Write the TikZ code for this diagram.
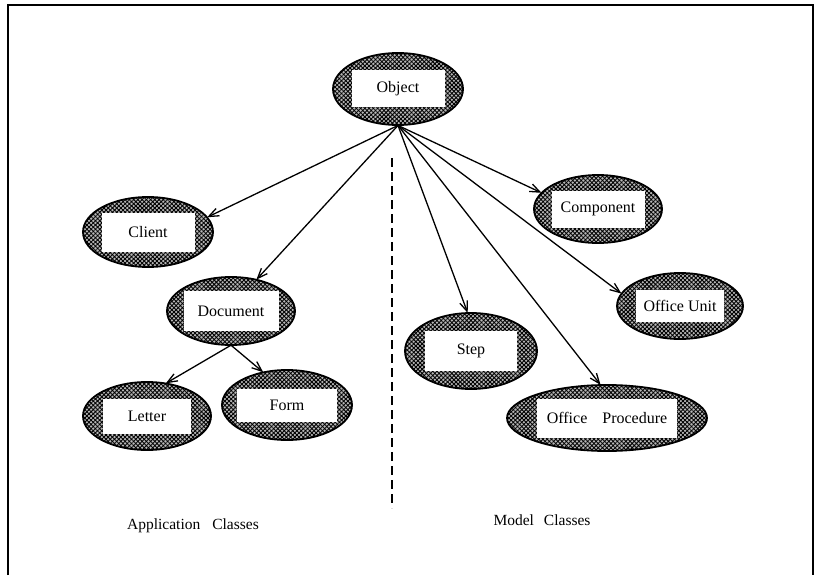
\documentclass[tikz,border=0pt]{standalone}
\usepackage{fontspec}
\setmainfont{Liberation Serif}
\usetikzlibrary{arrows.meta,shapes.geometric,patterns.meta}
\begin{document}
\begin{tikzpicture}[x=1pt,y=-1pt,
  cls/.style={ellipse, inner sep=0pt,
    preaction={fill=black!28},
    pattern={Lines[angle=45,distance=3pt,line width=0.9pt]},
    postaction={pattern={Lines[angle=-45,distance=3pt,line width=0.9pt]}},
    postaction={draw, line width=1.8pt}},
  lbl/.style={rectangle, fill=white, inner sep=0pt, font=\fontsize{16}{18}\selectfont},
  arr/.style={-{Straight Barb[length=10pt,width=8pt]}, line width=1.3pt},
  capt/.style={inner sep=0pt, font=\fontsize{15.5}{18}\selectfont}
]
\useasboundingbox (0,0) rectangle (821,575);
% frame
\draw[line width=1.3pt] (8,575) -- (8,5) -- (813,5) -- (813,575);

% ellipses
\node[cls, minimum width=130pt, minimum height=72pt] (obj) at (398,89) {};
\node[cls, minimum width=130pt, minimum height=70pt] (cli) at (148,232) {};
\node[cls, minimum width=128pt, minimum height=68pt] (doc) at (231,311) {};
\node[cls, minimum width=128pt, minimum height=68pt] (com) at (598,209) {};
\node[cls, minimum width=126pt, minimum height=66pt] (ou)  at (680,306) {};
\node[cls, minimum width=132pt, minimum height=76pt] (stp) at (471,351) {};
\node[cls, minimum width=200pt, minimum height=66pt] (op)  at (607,418) {};
\node[cls, minimum width=128pt, minimum height=68pt] (let) at (147,416) {};
\node[cls, minimum width=130pt, minimum height=70pt] (frm) at (287,405) {};

% inner labels
\node[lbl, minimum width=93pt, minimum height=37pt] (objL) at (obj) {Object};
\node[lbl, minimum width=93pt, minimum height=39pt] (cliL) at (cli) {Client};
\node[lbl, minimum width=95pt, minimum height=40pt] (docL) at (doc) {Document};
\node[lbl, minimum width=93pt, minimum height=37pt] (comL) at (com) {Component};
\node[lbl, minimum width=88pt, minimum height=32pt] (ouL)  at (ou)  {Office Unit};
\node[lbl, minimum width=92pt, minimum height=40pt] (stpL) at (stp) {Step};
\node[lbl, minimum width=140pt, minimum height=39pt] (opL) at (op) {Office\hspace{15pt}Procedure};
\node[lbl, minimum width=88pt, minimum height=35pt] (letL) at (let) {Letter};
\node[lbl, minimum width=100pt, minimum height=33pt] (frmL) at (frm) {Form};

% connectors
\draw[arr] (obj.south) -- (cli.14);
\draw[arr] (obj.south) -- (doc.51);
\draw[arr] (obj.south) -- (com.164);
\draw[arr] (obj.south) -- (ou.168);
\draw[arr] (obj.south) -- (stp.95);
\draw[arr] (obj.south) -- (op.101);
\draw[arr] (doc.south) -- (let.60);
\draw[arr] (doc.south) -- (frm.126);

% divider
\coordinate (dtop) at (392,158);
\coordinate (dbot) at (392,508);
\draw[line width=1.4pt, dash pattern=on 9pt off 5pt] (dtop) -- (dbot);

% captions
\node[capt] (appc) at (193,526) {Application\hspace{12pt}Classes};
\node[capt] (modc) at (542,520) {Model\hspace{10pt}Classes};
\end{tikzpicture}
\end{document}
